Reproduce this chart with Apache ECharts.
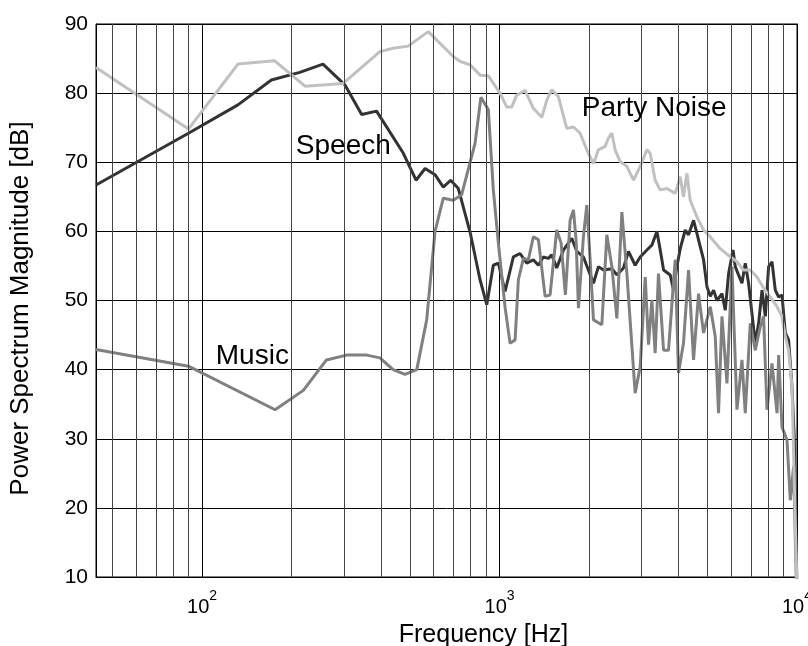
<!DOCTYPE html>
<html><head><meta charset="utf-8">
<script src="https://cdn.jsdelivr.net/npm/echarts@6/dist/echarts.min.js"></script>
<style>html,body{margin:0;padding:0;background:#fff}#c{width:808px;height:646px}</style>
</head><body><div id="c"></div>
<script>
// [frequency Hz, dB]
const speech = [[44,66.7],[90,74.2],[132,78.3],[171,81.9],[213,83.0],[255,84.2],[302,81.2],[344,76.9],[386,77.4],[475,71.3],[524,67.4],[562,69.1],[607,68.2],[647,66.4],[685,67.4],[727,66.2],[796,59.9],[860,53.0],[906,49.4],[953,55.1],[991,55.4],[1044,51.3],[1113,56.3],[1172,56.8],[1235,55.4],[1299,55.9],[1351,55.1],[1404,56.3],[1459,56.1],[1498,56.6],[1557,54.7],[1640,57.3],[1749,59.0],[1819,57.1],[1914,56.3],[2069,52.5],[2150,54.9],[2236,54.4],[2386,54.6],[2480,53.7],[2610,54.7],[2713,57.1],[2857,55.1],[2971,56.3],[3129,57.3],[3252,58.0],[3381,60.0],[3469,57.3],[3560,54.4],[3748,53.7],[3845,51.5],[3947,54.9],[4050,57.5],[4210,60.2],[4319,59.5],[4490,61.6],[4609,59.7],[4728,57.8],[4851,55.9],[4981,52.0],[5110,50.6],[5243,51.5],[5383,50.0],[5595,51.0],[5740,48.6],[5890,53.9],[6093,57.3],[6202,54.9],[6360,53.7],[6531,52.5],[6700,55.4],[6874,52.5],[7057,48.1],[7240,43.8],[7430,46.7],[7628,51.5],[7825,47.7],[8028,54.9],[8241,55.6],[8453,51.5],[8677,50.5],[8903,50.8],[9134,45.3],[9370,44.3],[9621,37.5],[9793,30],[10000,8]];
const music = [[44,42.9],[90,40.5],[176,34.2],[219,37.0],[262,41.4],[306,42.1],[358,42.1],[396,41.7],[439,40.0],[481,39.3],[527,40.0],[569,47.2],[607,60.0],[647,64.8],[699,64.5],[746,65.3],[827,72.7],[866,79.4],[917,77.6],[953,66],[991,58.3],[1044,49],[1085,43.8],[1128,44.3],[1157,53.0],[1203,56.1],[1250,55.9],[1299,59.2],[1351,58.8],[1423,50.6],[1479,50.8],[1557,60.2],[1611,58.3],[1665,50.8],[1727,61.6],[1772,63.1],[1809,58.7],[1842,48.9],[1914,59.2],[1965,63.8],[2016,56],[2069,47.2],[2208,46.5],[2295,59.5],[2386,54.9],[2480,47.4],[2578,62.8],[2679,54],[2857,36.6],[2971,40.4],[3089,53.4],[3169,43.6],[3252,50.1],[3336,42.4],[3422,53.9],[3560,42.8],[3698,42.8],[3895,55.9],[3996,39.5],[4153,43.8],[4319,54.4],[4490,41.4],[4667,51.0],[4851,45.3],[5110,49.1],[5311,44.8],[5448,33.7],[5595,47.7],[5815,38.0],[6044,54.9],[6283,34.2],[6531,41.4],[6700,33.7],[6966,46.7],[7240,42.8],[7524,46.2],[7720,47.7],[7927,34.2],[8241,40.9],[8567,33.7],[8677,42.1],[8903,31.7],[9256,29.8],[9495,21.1],[9741,26],[10000,5]];
const partyNoise = [[44,83.7],[90,74.8],[132,84.2],[175,84.7],[222,81.0],[298,81.4],[396,86.0],[439,86.5],[493,86.8],[576,88.9],[699,85.3],[736,84.6],[796,84.1],[860,82.6],[917,82.5],[1004,80.0],[1057,78.0],[1099,78.0],[1142,79.7],[1219,80.4],[1299,77.8],[1387,76.5],[1442,79.0],[1498,80.5],[1577,79.5],[1683,74.9],[1772,75.1],[1866,74.2],[1965,71.8],[2069,69.8],[2150,71.8],[2265,72.3],[2323,73.5],[2386,74.2],[2447,71.8],[2544,70.1],[2679,69.4],[2820,67.4],[2971,69.4],[3129,71.8],[3209,71.3],[3336,67.4],[3469,66.0],[3652,66.2],[3895,65.5],[4050,67.9],[4153,65.0],[4265,68.4],[4375,64.5],[4609,62.1],[4851,60.2],[5110,59.2],[5520,57.5],[5815,56.7],[6283,55.6],[6613,54.4],[6966,54.4],[7335,53.4],[7720,51.8],[8133,50.5],[8567,49.1],[8903,47.7],[9134,44.8],[9370,42.8],[9621,37.5],[10000,8]];
const seriesNames = ['Speech', 'Music', 'Party Noise'];
// label anchors [frequency, dB]
const labelAnchors = [[206.7,72.3],[111.2,41.9],[1891,77.8]];
const xRange = [44, 10000];
const yRange = [10, 90];
const yStep = 10;
const minorGridFreqs = [50,60,70,80,90,200,300,400,500,600,700,800,900,2000,3000,4000,5000,6000,7000,8000,9000];
const xLabel = 'Frequency [Hz]';
const yLabel = 'Power Spectrum Magnitude [dB]';

const FONT = 'Liberation Sans, Arial, sans-serif';
const colors = ['#333333', '#808080', '#c0c0c0'];
const dataSets = [speech, music, partyNoise];

function mkSeries(i) {
  return {
    type: 'line', name: seriesNames[i], data: dataSets[i],
    symbol: 'none', showSymbol: false, z: 3,
    lineStyle: { color: colors[i], width: 3 },
    itemStyle: { color: colors[i] },
    markPoint: {
      symbol: 'circle', symbolSize: 0, silent: true,
      data: [{ coord: labelAnchors[i] }],
      label: { show: true, position: 'right', distance: 0, formatter: seriesNames[i],
        color: '#000', fontSize: 28, fontFamily: FONT }
    }
  };
}

const chart = echarts.init(document.getElementById('c'), null, { renderer: 'canvas' });
chart.setOption({
  animation: false,
  backgroundColor: '#fff',
  grid: { left: 96, right: 11, top: 24, bottom: 69, containLabel: false, outerBoundsMode: 'none',
    show: true, borderColor: '#000', borderWidth: 1 },
  xAxis: {
    type: 'log', logBase: 10, min: xRange[0], max: xRange[1],
    name: xLabel, nameLocation: 'middle', nameGap: 46,
    nameTextStyle: { fontSize: 25, fontFamily: FONT, color: '#000', padding: [0, 0, 0, 74] },
    axisLine: { lineStyle: { color: '#000', width: 1 } },
    axisTick: { show: false },
    splitLine: { show: true, lineStyle: { color: '#000', width: 1 } },
    axisLabel: {
      margin: 12, color: '#000', hideOverlap: false,
      formatter: function (v) {
        const l = Math.log10(v), e = Math.round(l);
        if (Math.abs(l - e) > 1e-6) return '';
        return '{b|10}{s|' + e + '}';
      },
      rich: {
        b: { fontSize: 20, fontFamily: FONT, color: '#000', verticalAlign: 'bottom', lineHeight: 28 },
        s: { fontSize: 14, fontFamily: FONT, color: '#000', verticalAlign: 'top', lineHeight: 14 }
      }
    }
  },
  yAxis: [{
    type: 'value', min: yRange[0], max: yRange[1], interval: yStep,
    name: yLabel, nameLocation: 'middle', nameGap: 62,
    nameTextStyle: { fontSize: 26, fontFamily: FONT, color: '#000', padding: [0, 16, 0, 0] },
    axisLine: { show: true, lineStyle: { color: '#000', width: 1 } },
    axisTick: { show: false },
    splitLine: { show: true, lineStyle: { color: '#000', width: 1 } },
    axisLabel: { fontSize: 21, fontFamily: FONT, color: '#000', margin: 8 }
  }, {
    type: 'value', position: 'right', min: yRange[0], max: yRange[1], interval: yStep,
    axisLine: { show: true, lineStyle: { color: '#000', width: 1 } },
    axisTick: { show: true, inside: true, length: 5, lineStyle: { color: '#000' } },
    splitLine: { show: false }, axisLabel: { show: false }
  }],
  series: [{
    type: 'line', data: speech, symbol: 'none', silent: true, z: 1,
    lineStyle: { opacity: 0 },
    markLine: {
      silent: true, symbol: ['none', 'none'], label: { show: false },
      lineStyle: { color: '#444', width: 1, type: 'solid' },
      data: minorGridFreqs.map(f => ({ xAxis: f }))
    }
  }, mkSeries(0), mkSeries(1), mkSeries(2)]
});
</script></body></html>
